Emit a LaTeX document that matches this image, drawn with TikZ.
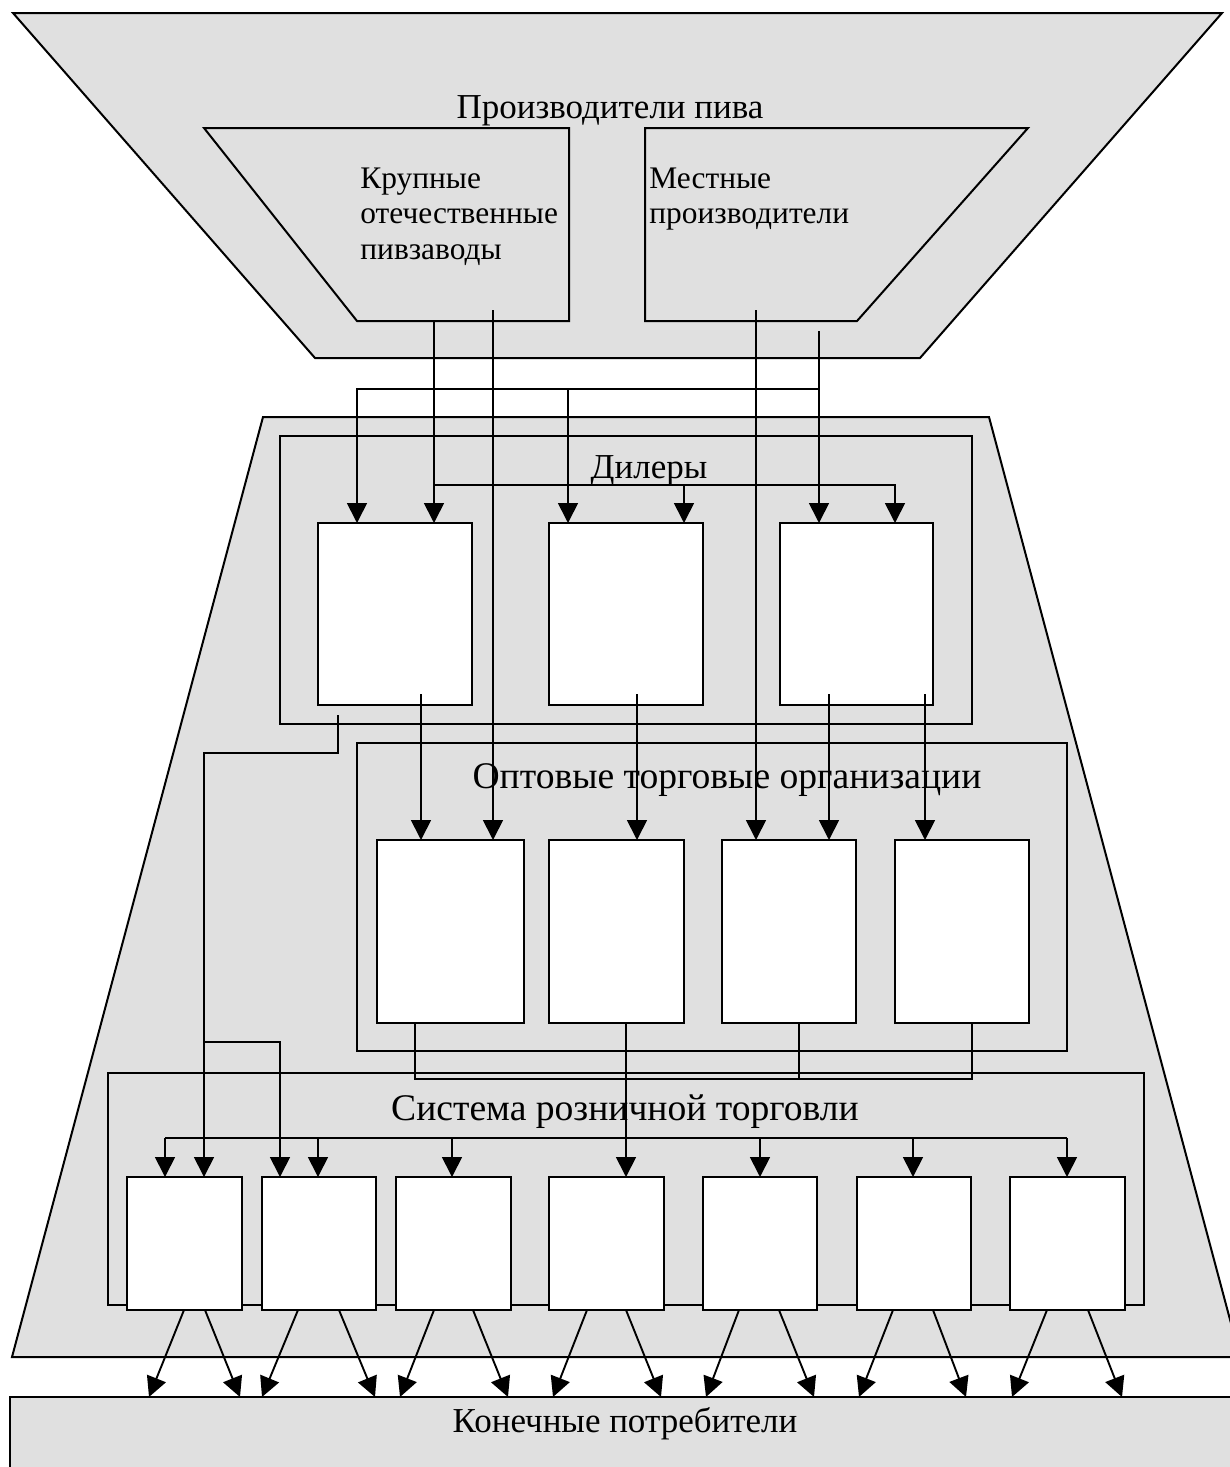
\documentclass[tikz,border=0pt]{standalone}
\usepackage{fontspec}
\setmainfont{Liberation Serif}
\usetikzlibrary{arrows.meta}
\definecolor{zonegray}{RGB}{224,224,224}

% \mkbox{style}{name}{x1}{y1}{x2}{y2}: rectangle node spanning the given corners
\newcommand\mkbox[6]{%
  \node[#1,minimum width={(#5-#3)*0.5pt},minimum height={(#6-#4)*0.5pt}]
    (#2) at ({(#3+#5)/2},{(#4+#6)/2}) {};}

\begin{document}
\begin{tikzpicture}[x=0.5pt,y=-0.5pt,
  zone/.style={fill=zonegray,draw=black,line width=1pt,inner sep=0pt,outer sep=0pt},
  cell/.style={draw=black,fill=white,line width=1pt,inner sep=0pt,outer sep=0pt},
  frame/.style={draw=black,line width=1pt,inner sep=0pt,outer sep=0pt},
  link/.style={line width=0.85pt},
  arr/.style={link,-{Triangle[length=10pt,width=10pt]}},
  lbl/.style={font=\fontsize{17.5}{21}\selectfont,inner sep=0pt,anchor=base},
  lblbig/.style={lbl,font=\fontsize{18.8}{22}\selectfont},
  lbll/.style={lbl,font=\fontsize{15.7}{19}\selectfont,anchor=base west},
]
\useasboundingbox (0,0) rectangle (1230,1467);
\fill[white] (0,0) rectangle (1230,1467);
\clip (0,0) rectangle (1230,1467);

% --- beer producers (funnel top) ---
\draw[zone] (13,13) -- (1222,13) -- (920,358) -- (315,358) -- cycle;
\draw[zone] (204,128) -- (569,128) -- (569,321) -- (357,321) -- cycle;
\draw[zone] (645,128) -- (1028,128) -- (857,321) -- (645,321) -- cycle;
\node[lbl] (tProd) at (610,118) {Производители пива};
\node[lbll] (tBig1) at (360,188) {Крупные};
\node[lbll] (tBig2) at (360,223) {отечественные};
\node[lbll] (tBig3) at (360,259) {пивзаводы};
\node[lbll] (tLoc1) at (649,188) {Местные};
\node[lbll] (tLoc2) at (649,223) {производители};

% --- distribution funnel ---
\draw[zone] (263,417) -- (989,417) -- (1240,1357) -- (12,1357) -- cycle;
\mkbox{zone}{cons}{10}{1397}{1260}{1500}
\node[lbl] (tCons) at (625,1432) {Конечные потребители};

% group frames
\mkbox{frame}{fD}{280}{436}{972}{724}
\mkbox{frame}{fW}{357}{743}{1067}{1051}
\mkbox{frame}{fR}{108}{1073}{1144}{1305}
\node[lbl] (tDeal) at (649,478) {Дилеры};
\node[lblbig] (tWhole) at (727,788) {Оптовые торговые организации};
\node[lblbig] (tRet) at (625,1120) {Система розничной торговли};

% dealers
\mkbox{cell}{d1}{318}{523}{472}{705}
\mkbox{cell}{d2}{549}{523}{703}{705}
\mkbox{cell}{d3}{780}{523}{933}{705}
% wholesalers
\mkbox{cell}{w1}{377}{840}{524}{1023}
\mkbox{cell}{w2}{549}{840}{684}{1023}
\mkbox{cell}{w3}{722}{840}{856}{1023}
\mkbox{cell}{w4}{895}{840}{1029}{1023}
% retail outlets
\mkbox{cell}{r1}{127}{1177}{242}{1310}
\mkbox{cell}{r2}{262}{1177}{376}{1310}
\mkbox{cell}{r3}{396}{1177}{511}{1310}
\mkbox{cell}{r4}{549}{1177}{664}{1310}
\mkbox{cell}{r5}{703}{1177}{817}{1310}
\mkbox{cell}{r6}{857}{1177}{971}{1310}
\mkbox{cell}{r7}{1010}{1177}{1125}{1310}

% free line ends inside the producer zones
\coordinate (sBigA) at (434,321);
\coordinate (sBigB) at (493,310);
\coordinate (sLocA) at (756,310);
\coordinate (sLocB) at (819,331);

% producers -> dealers / wholesalers
\draw[arr] (sBigA) -- (434,0 |- d1.north);
\draw[arr] (434,485) -- (895,485) -- (895,0 |- d3.north);
\draw[arr] (684,485) -- (684,0 |- d2.north);
\draw[arr] (sBigB) -- (493,0 |- w1.north);
\draw[arr] (sLocA) -- (756,0 |- w3.north);
\draw[arr] (sLocB) -- (819,0 |- d3.north);
\draw[arr] (819,389) -- (357,389) -- (357,0 |- d1.north);
\draw[arr] (568,389) -- (568,0 |- d2.north);

% dealers -> wholesalers
\draw[arr] (421,694) -- (421,0 |- w1.north);
\draw[arr] (637,694) -- (637,0 |- w2.north);
\draw[arr] (829,694) -- (829,0 |- w3.north);
\draw[arr] (925,694) -- (925,0 |- w4.north);

% dealers -> retail
\draw[arr] (338,715) -- (338,753) -- (204,753) -- (204,0 |- r1.north);
\draw[arr] (204,1042) -- (280,1042) -- (280,0 |- r2.north);

% wholesalers -> retail
\draw[link] (415,0 |- w1.south) -- (415,1079) -- (972,1079) -- (972,0 |- w4.south);
\draw[link] (799,0 |- w3.south) -- (799,1079);
\draw[arr] (626,0 |- w2.south) -- (626,0 |- r4.north);

% retail distribution bus
\draw[link] (165,1138) -- (1067,1138);
\foreach \x/\t in {165/r1,318/r2,452/r3,760/r5,913/r6,1067/r7}
  \draw[arr] (\x,1138) -- (\x,0 |- \t.north);

% retail -> final consumers
\foreach \t/\a/\b/\c/\d in {r1/184/149/205/240, r2/298/262/339/375,
    r3/434/400/473/508, r4/587/553/626/661, r5/739/706/779/814,
    r6/893/859/933/966, r7/1047/1012/1088/1122}{
  \draw[arr,line width=0.95pt] (\a,0 |- \t.south) -- (\b,0 |- cons.north);
  \draw[arr,line width=0.95pt] (\c,0 |- \t.south) -- (\d,0 |- cons.north);
}
\end{tikzpicture}
\end{document}
